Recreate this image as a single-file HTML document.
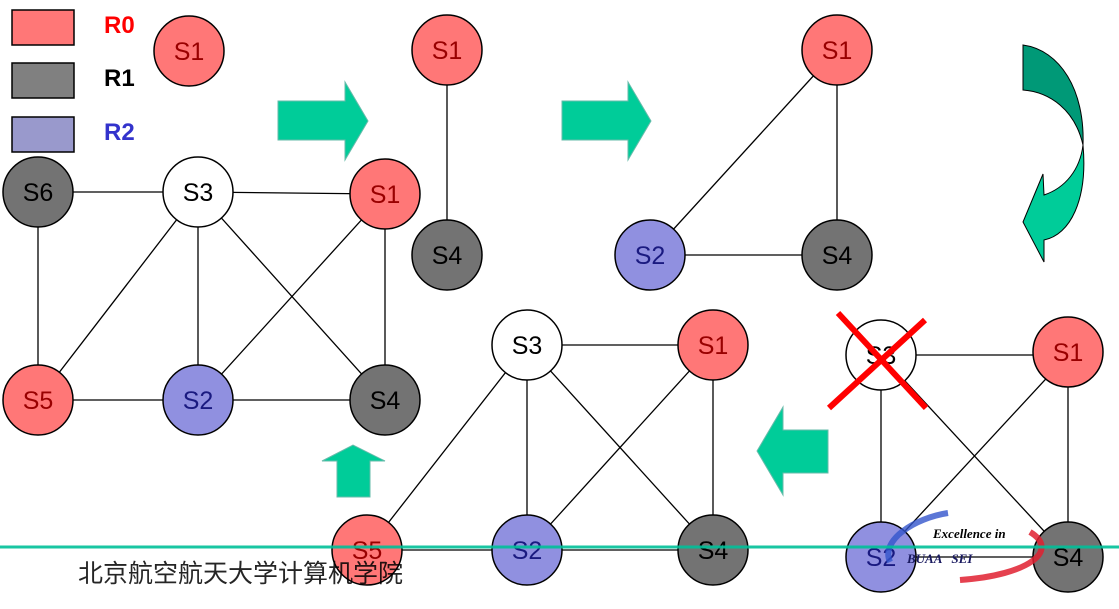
<!DOCTYPE html>
<html><head><meta charset="utf-8"><style>
body{margin:0;background:#fff;width:1119px;height:609px;overflow:hidden}
svg{display:block}
text{font-family:"Liberation Sans",sans-serif}
text.serif{font-family:"Liberation Serif",serif}
text.cjk{font-family:"Liberation Sans","Noto Sans CJK SC",sans-serif}
</style></head><body>
<svg width="1119" height="609" viewBox="0 0 1119 609" xmlns="http://www.w3.org/2000/svg">
<defs>
<style>
.e{stroke:#000;stroke-width:1.3}
.r{fill:#ff7777;stroke:#000;stroke-width:1.5}
.g{fill:#737373;stroke:#000;stroke-width:1.5}
.b{fill:#9090e0;stroke:#000;stroke-width:1.5}
.w{fill:#fff;stroke:#000;stroke-width:1.5}
.t{font-size:25px;text-anchor:middle}
.tr{fill:#990000}.tb{fill:#1a1a80}.tk{fill:#000}
.ar{fill:#00cc99}
</style>
</defs>
<!-- legend -->
<rect x="12" y="10" width="62" height="35" fill="#ff7777" stroke="#000" stroke-width="1.5"/>
<rect x="12" y="63" width="62" height="35" fill="#808080" stroke="#000" stroke-width="1.5"/>
<rect x="12" y="117" width="62" height="35" fill="#9999cc" stroke="#000" stroke-width="1.5"/>
<text x="104" y="33" font-size="24" font-weight="bold" fill="#ff0000">R0</text>
<text x="104" y="86" font-size="24" font-weight="bold" fill="#000">R1</text>
<text x="104" y="140" font-size="24" font-weight="bold" fill="#3333cc">R2</text>
<circle cx="189" cy="51" r="35" class="r"/><text x="189" y="60" class="t tr">S1</text>

<!-- graph 1 edges -->
<g class="e">
<line x1="38" y1="192" x2="198" y2="192"/><line x1="198" y1="192" x2="385" y2="194"/>
<line x1="38" y1="192" x2="38" y2="400"/><line x1="38" y1="400" x2="385" y2="400"/>
<line x1="385" y1="194" x2="385" y2="400"/><line x1="198" y1="192" x2="38" y2="400"/>
<line x1="198" y1="192" x2="198" y2="400"/><line x1="198" y1="192" x2="385" y2="400"/>
<line x1="385" y1="194" x2="198" y2="400"/>
</g>
<circle cx="38" cy="192" r="35" class="g"/><text x="38" y="201" class="t tk">S6</text>
<circle cx="198" cy="192" r="35" class="w"/><text x="198" y="201" class="t tk">S3</text>
<circle cx="385" cy="194" r="35" class="r"/><text x="385" y="203" class="t tr">S1</text>
<circle cx="38" cy="400" r="35" class="r"/><text x="38" y="409" class="t tr">S5</text>
<circle cx="198" cy="400" r="35" class="b"/><text x="198" y="409" class="t tb">S2</text>
<circle cx="385" cy="400" r="35" class="g"/><text x="385" y="409" class="t tk">S4</text>

<!-- graph 2 -->
<line class="e" x1="447" y1="50" x2="447" y2="255"/>
<circle cx="447" cy="50" r="35" class="r"/><text x="447" y="59" class="t tr">S1</text>
<circle cx="447" cy="255" r="35" class="g"/><text x="447" y="264" class="t tk">S4</text>

<!-- graph 3 -->
<g class="e">
<line x1="837" y1="50" x2="837" y2="255"/><line x1="837" y1="50" x2="650" y2="255"/>
<line x1="650" y1="255" x2="837" y2="255"/>
</g>
<circle cx="837" cy="50" r="35" class="r"/><text x="837" y="59" class="t tr">S1</text>
<circle cx="650" cy="255" r="35" class="b"/><text x="650" y="264" class="t tb">S2</text>
<circle cx="837" cy="255" r="35" class="g"/><text x="837" y="264" class="t tk">S4</text>

<!-- graph 4 -->
<g class="e">
<line x1="527" y1="345" x2="713" y2="345"/><line x1="527" y1="345" x2="367" y2="550"/>
<line x1="527" y1="345" x2="527" y2="550"/><line x1="527" y1="345" x2="713" y2="550"/>
<line x1="713" y1="345" x2="527" y2="550"/><line x1="713" y1="345" x2="713" y2="550"/>
<line x1="367" y1="550" x2="713" y2="550"/>
</g>
<circle cx="527" cy="345" r="35" class="w"/><text x="527" y="354" class="t tk">S3</text>
<circle cx="713" cy="345" r="35" class="r"/><text x="713" y="354" class="t tr">S1</text>
<circle cx="367" cy="550" r="35" class="r"/><text x="367" y="559" class="t tr">S5</text>
<circle cx="527" cy="550" r="35" class="b"/><text x="527" y="559" class="t tb">S2</text>
<circle cx="713" cy="550" r="35" class="g"/><text x="713" y="559" class="t tk">S4</text>

<!-- graph 5 -->
<g class="e">
<line x1="881" y1="355" x2="1068" y2="355"/><line x1="881" y1="355" x2="881" y2="557"/>
<line x1="881" y1="355" x2="1068" y2="557"/><line x1="1068" y1="355" x2="881" y2="557"/>
<line x1="1068" y1="355" x2="1068" y2="557"/><line x1="881" y1="557" x2="1068" y2="557"/>
</g>
<circle cx="881" cy="355" r="35" class="w"/><text x="881" y="364" class="t tk">S3</text>
<circle cx="1068" cy="352" r="35" class="r"/><text x="1068" y="361" class="t tr">S1</text>
<circle cx="881" cy="557" r="35" class="b"/><text x="881" y="566" class="t tb">S2</text>
<circle cx="1068" cy="557" r="35" class="g"/><text x="1068" y="566" class="t tk">S4</text>
<line x1="838" y1="313" x2="926" y2="408" stroke="#ff0000" stroke-width="6"/>
<line x1="925" y1="320" x2="829" y2="408" stroke="#ff0000" stroke-width="6"/>

<!-- logo -->
<path d="M948,513 C915,518 880,540 890,562" stroke="#3355cc" stroke-width="6" fill="none" opacity="0.8"/>
<path d="M1030,532 C1060,550 1030,575 960,580" stroke="#e02030" stroke-width="6" fill="none" opacity="0.85"/>
<text class="serif" x="933" y="538" font-style="italic" font-weight="bold" font-size="13" fill="#000">Excellence in</text>
<text class="serif" x="907" y="563" font-style="italic" font-weight="bold" font-size="13" fill="#1a1a60" xml:space="preserve">BUAA   SEI</text>

<!-- arrows -->
<polygon class="ar" stroke="#66bbaa" stroke-width="1" points="278,101 345,101 345,82 368,121 345,160 345,140 278,140"/>
<polygon class="ar" stroke="#66bbaa" stroke-width="1" points="562,101 628,101 628,82 651,121 628,160 628,140 562,140"/>
<polygon class="ar" stroke="#66bbaa" stroke-width="1" points="828,430 783,430 783,407 757,451 783,495 783,473 828,473"/>
<polygon class="ar" stroke="#66bbaa" stroke-width="1" points="322,461 353,445 385,461 370,461 370,497 337,497 337,461"/>
<!-- curved arrow -->
<path d="M1023,45 C1060,50 1085,90 1083,145 C1075,110 1050,92 1023,90 Z" fill="#009977" stroke="#000" stroke-width="1"/>
<path d="M1083,145 C1088,200 1070,235 1044,240 L1044,262 L1023,222 L1043,174 L1044,195 C1065,188 1080,170 1083,145 Z" fill="#00cc99" stroke="#000" stroke-width="1"/>

<!-- footer -->
<line x1="0" y1="547" x2="1119" y2="547" stroke="#00c099" stroke-width="3" opacity="0.9"/>
<text class="cjk" x="78" y="582" font-size="25" fill="#000" opacity="0.85">北京航空航天大学计算机学院</text>
</svg>
</body></html>
